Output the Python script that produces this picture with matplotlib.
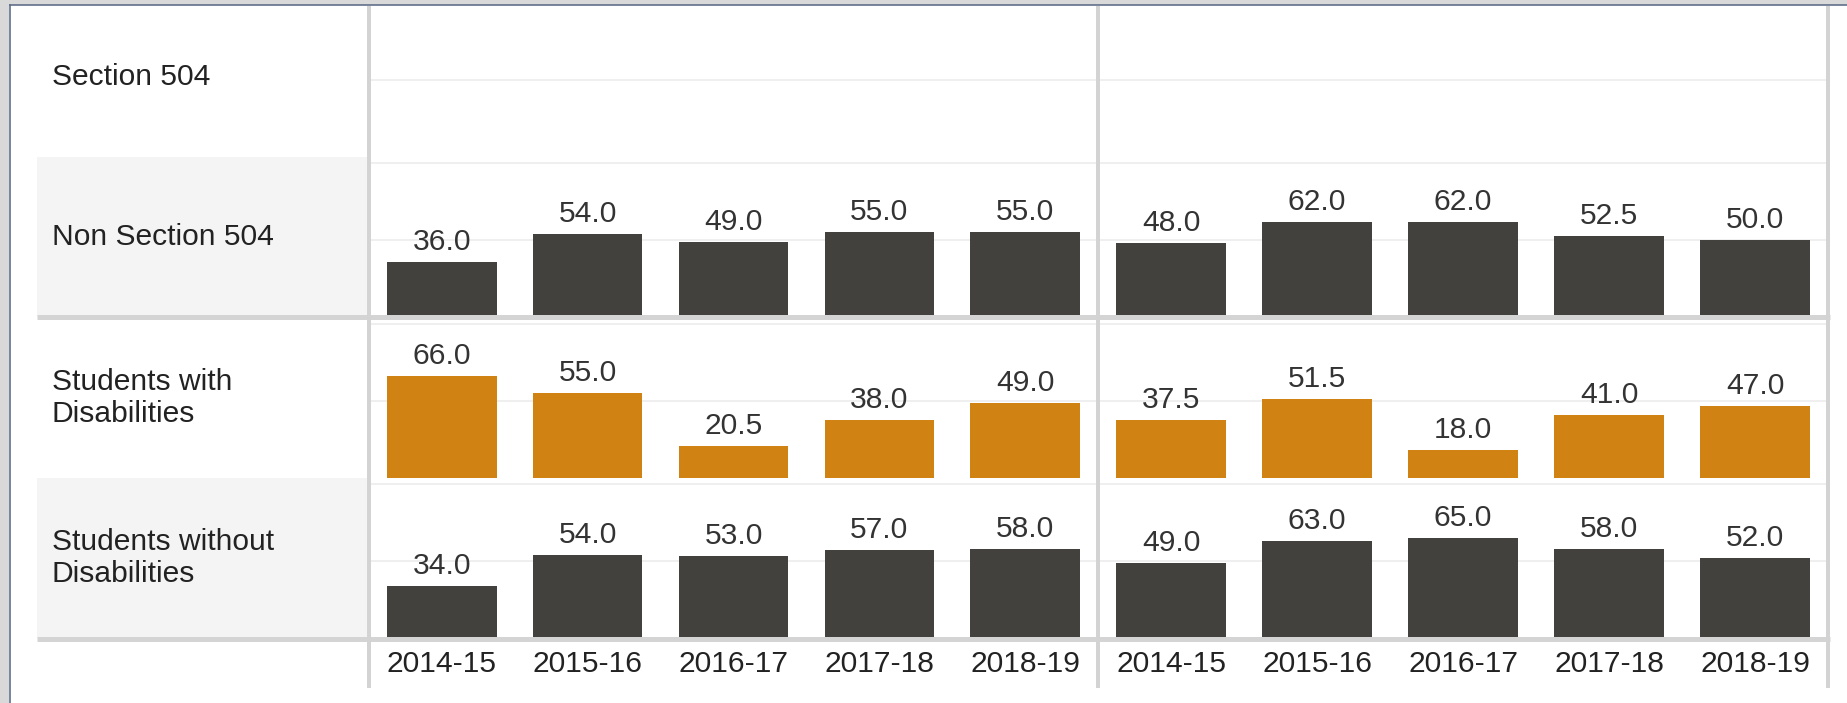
import matplotlib
matplotlib.use("Agg")
import matplotlib.pyplot as plt
from matplotlib.lines import Line2D
from matplotlib.patches import Rectangle

# ---------------- data ----------------
years = ["2014-15", "2015-16", "2016-17", "2017-18", "2018-19"]
row_labels = ["Section 504", "Non Section 504", "Students with\nDisabilities", "Students without\nDisabilities"]
section504_left = []
section504_right = []
non504_left = [36.0, 54.0, 49.0, 55.0, 55.0]
non504_right = [48.0, 62.0, 62.0, 52.5, 50.0]
swd_left = [66.0, 55.0, 20.5, 38.0, 49.0]
swd_right = [37.5, 51.5, 18.0, 41.0, 47.0]
swod_left = [34.0, 54.0, 53.0, 57.0, 58.0]
swod_right = [49.0, 63.0, 65.0, 58.0, 52.0]

rows = [
    (section504_left, section504_right),
    (non504_left, non504_right),
    (swd_left, swd_right),
    (swod_left, swod_right),
]
row_colors = ["#42413D", "#42413D", "#D08312", "#42413D"]

# ---------------- layout (pixels) ----------------
W, H = 1847, 703
DPI = 100
plt.rcParams["font.family"] = ["Liberation Sans", "DejaVu Sans"]
FS = 30 * 72 / DPI  # 30 px font
PT = 72 / DPI

fig = plt.figure(figsize=(W / DPI, H / DPI), dpi=DPI)
fig.patch.set_facecolor("white")

def fx(x):
    return x / W

def fy(y):
    return 1 - y / H

row_tops = [-3, 157, 318, 478]
row_h = 160
panel_x = [(369, 1098), (1098, 1828)]
label_x0 = 37

# label panel backgrounds for alternate rows
for r in (1, 3):
    top = row_tops[r]
    fig.add_artist(Rectangle((fx(label_x0), fy(top + row_h)), fx(369 - label_x0), row_h / H,
                             transform=fig.transFigure, facecolor="#F4F4F4", edgecolor="none", zorder=-5))

# row labels
for r, lab in enumerate(row_labels):
    cy = row_tops[r] + row_h / 2
    fig.text(fx(52), fy(cy), lab, ha="left", va="center", fontsize=FS, color="#222222",
             linespacing=1.17)

# chart axes
for r, (left_vals, right_vals) in enumerate(rows):
    for p, vals in enumerate((left_vals, right_vals)):
        x0, x1 = panel_x[p]
        top = row_tops[r]
        ax = fig.add_axes([fx(x0), fy(top + row_h), (x1 - x0) / W, row_h / H])
        ax.set_facecolor("none")
        ax.set_xlim(-0.5, 4.5)
        ax.set_ylim(0, 104)
        for s in ax.spines.values():
            s.set_visible(False)
        ax.set_yticks([50, 100])
        ax.yaxis.grid(True, color="#EBEBEB", linewidth=1.5 * PT)
        ax.set_axisbelow(True)
        ax.tick_params(axis="y", left=False, labelleft=False)
        if vals:
            xs = list(range(len(vals)))
            ax.bar(xs, vals, width=0.75, color=row_colors[r], zorder=2)
            for xi, v in zip(xs, vals):
                ax.annotate(f"{v:.1f}", xy=(xi, v), xytext=(0, 12 * PT), textcoords="offset points",
                            ha="center", va="baseline", fontsize=FS, color="#333333")
        if r == 3:
            ax.set_xticks(range(len(years)))
            ax.set_xticklabels(years, fontsize=FS, color="#222222")
            ax.tick_params(axis="x", length=0, pad=12 * PT)
        else:
            ax.set_xticks([])

# thick horizontal separators
for y in (317, 639):
    fig.add_artist(Line2D([fx(label_x0), fx(1830)], [fy(y), fy(y)], transform=fig.transFigure,
                          color="#D4D4D4", linewidth=5 * PT, solid_capstyle="butt", zorder=5))

# vertical separators
for x in (369, 1098, 1828):
    fig.add_artist(Line2D([fx(x), fx(x)], [fy(6), fy(688)], transform=fig.transFigure,
                          color="#D3D3D3", linewidth=4 * PT, solid_capstyle="butt", zorder=5))

# screenshot frame (left and top)
fig.add_artist(Rectangle((0, 0), fx(9), 1, transform=fig.transFigure, facecolor="#D9D9D9",
                         edgecolor="none", zorder=10))
fig.add_artist(Rectangle((0, fy(4.5)), 1, 4.5 / H, transform=fig.transFigure, facecolor="#D9D9D9",
                         edgecolor="none", zorder=10))
fig.add_artist(Line2D([fx(9.8), fx(9.8)], [fy(5), 0], transform=fig.transFigure,
                      color="#5B6A86", linewidth=1.6 * PT, zorder=11))
fig.add_artist(Line2D([fx(9.8), 1], [fy(5.3), fy(5.3)], transform=fig.transFigure,
                      color="#5B6A86", linewidth=1.6 * PT, zorder=11))

fig.savefig("out.png", dpi=DPI, facecolor="white")
